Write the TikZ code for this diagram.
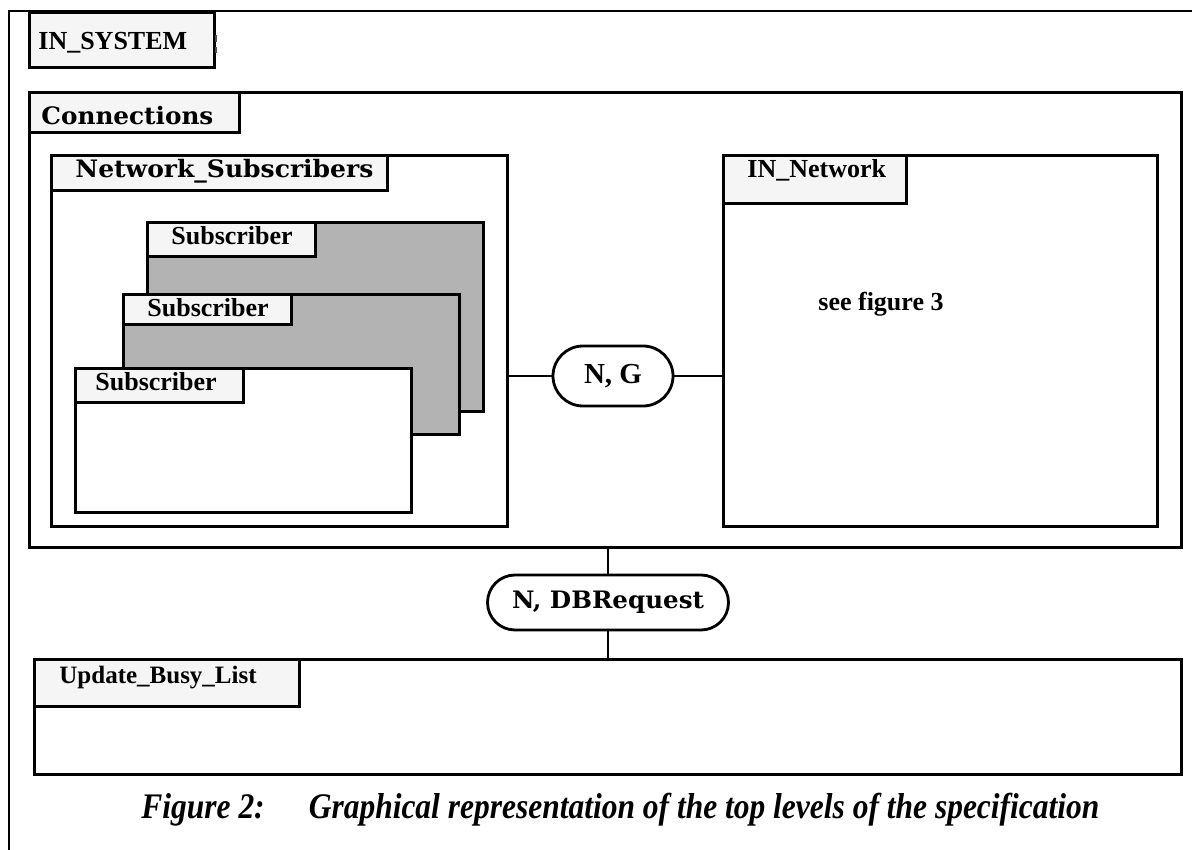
\documentclass[tikz,border=0pt]{standalone}
\usepackage{fontspec}
\usepackage{graphicx}
\usetikzlibrary{shapes.misc}
\newfontfamily\timesfam{Liberation Serif}
\newfontfamily\schfam{DejaVu Serif}
\definecolor{tabfill}{HTML}{F5F5F5}
\definecolor{shade}{HTML}{B3B3B3}
\newcommand\tlabel{\timesfam\bfseries\fontsize{26}{30}\selectfont}
% heavy wide serif label, stretched to a given width
\newcommand\schlabel[2]{\resizebox{#1}{\height}{\schfam\bfseries\fontsize{24}{28}\selectfont #2}}
\begin{document}
\begin{tikzpicture}[x=1pt,y=-1pt,line width=2.8pt,
  blk/.style={draw,rectangle,inner sep=0pt,anchor=north west},
  tabbox/.style={blk,fill=tabfill},
  shadedbox/.style={blk,fill=shade},
  tname/.style={anchor=base west,inner sep=0pt,font=\tlabel},
  sname/.style={anchor=base west,inner sep=0pt},
  channel/.style={draw,rounded rectangle,fill=white,inner sep=0pt}]
\useasboundingbox (0,0) rectangle (1192,850);

% outer system frame
\draw (9,850) -- (9,11) -- (1192,11);
\node[tabbox,minimum width=185pt,minimum height=55pt] (systab) at (28,11) {};
\node[tname] (systxt) at (37,50) {IN\_SYSTEM};
\draw[line width=2pt,black!70] (216,35) -- (216,42) (216,47) -- (216,53);

% Connections block
\node[blk,minimum width=1152pt,minimum height=455pt] (conn) at (28,91) {};
\node[tabbox,minimum width=210pt,minimum height=40pt] (conntab) at (28,91) {};
\node[sname] (conntxt) at (40,125) {\schlabel{172pt}{Connections}};

% Network_Subscribers block
\node[blk,minimum width=456pt,minimum height=371pt] (nsub) at (50,154) {};
\node[tabbox,minimum width=336pt,minimum height=35pt] (nsubtab) at (50,154) {};
\node[sname] (nsubtxt) at (74,178) {\schlabel{298pt}{Network\_Subscribers}};

% stacked Subscriber instances
\node[shadedbox,minimum width=336pt,minimum height=189pt] (sub1) at (146,221) {};
\node[tabbox,minimum width=168pt,minimum height=34pt] (sub1tab) at (146,221) {};
\node[tname] (sub1txt) at (170,245) {Subscriber};

\node[shadedbox,minimum width=336pt,minimum height=140pt] (sub2) at (122,293) {};
\node[tabbox,minimum width=168pt,minimum height=30pt] (sub2tab) at (122,293) {};
\node[tname] (sub2txt) at (146,317) {Subscriber};

\node[blk,fill=white,minimum width=336pt,minimum height=144pt] (sub3) at (74,367) {};
\node[tabbox,minimum width=168pt,minimum height=34pt] (sub3tab) at (74,367) {};
\node[tname] (sub3txt) at (94,391) {Subscriber};

% IN_Network block
\node[blk,minimum width=434pt,minimum height=371pt] (innet) at (722,154) {};
\node[tabbox,minimum width=183pt,minimum height=48pt] (innettab) at (722,154) {};
\node[tname] (innettxt) at (746,178) {IN\_Network};
\node[tname] (seefig) at (817,311) {see figure 3};

% channel between subscribers and network
\node[channel,minimum width=120pt,minimum height=60pt,font=\timesfam\bfseries\fontsize{29}{32}\selectfont] (ng) at (613,376) {N, G};
\draw (ng.west) -- (ng.west -| nsub.east);
\draw (ng.east) -- (ng.east -| innet.west);

% Update_Busy_List block
\node[blk,minimum width=1147pt,minimum height=115pt] (ubl) at (33,658) {};
\node[tabbox,minimum width=265pt,minimum height=47pt] (ubltab) at (33,658) {};
\node[tname,font=\timesfam\bfseries\fontsize{25}{30}\selectfont] (ubltxt) at (58,683) {Update\_Busy\_List};

% channel between Connections and Update_Busy_List
\node[channel,minimum width=241pt,minimum height=55pt] (db) at (608,602.5) {\schlabel{192pt}{N, DBRequest}};
\draw (db.north) -- (db.north |- conn.south);
\draw (db.south) -- (db.south |- ubl.north);

% caption
\node[anchor=base west,inner sep=0pt] (cap) at (140,818)
  {\resizebox{958pt}{\height}{\timesfam\bfseries\itshape\fontsize{36}{40}\selectfont Figure 2:\hspace*{1.4em}Graphical representation of the top levels of the specification}};
\end{tikzpicture}
\end{document}
